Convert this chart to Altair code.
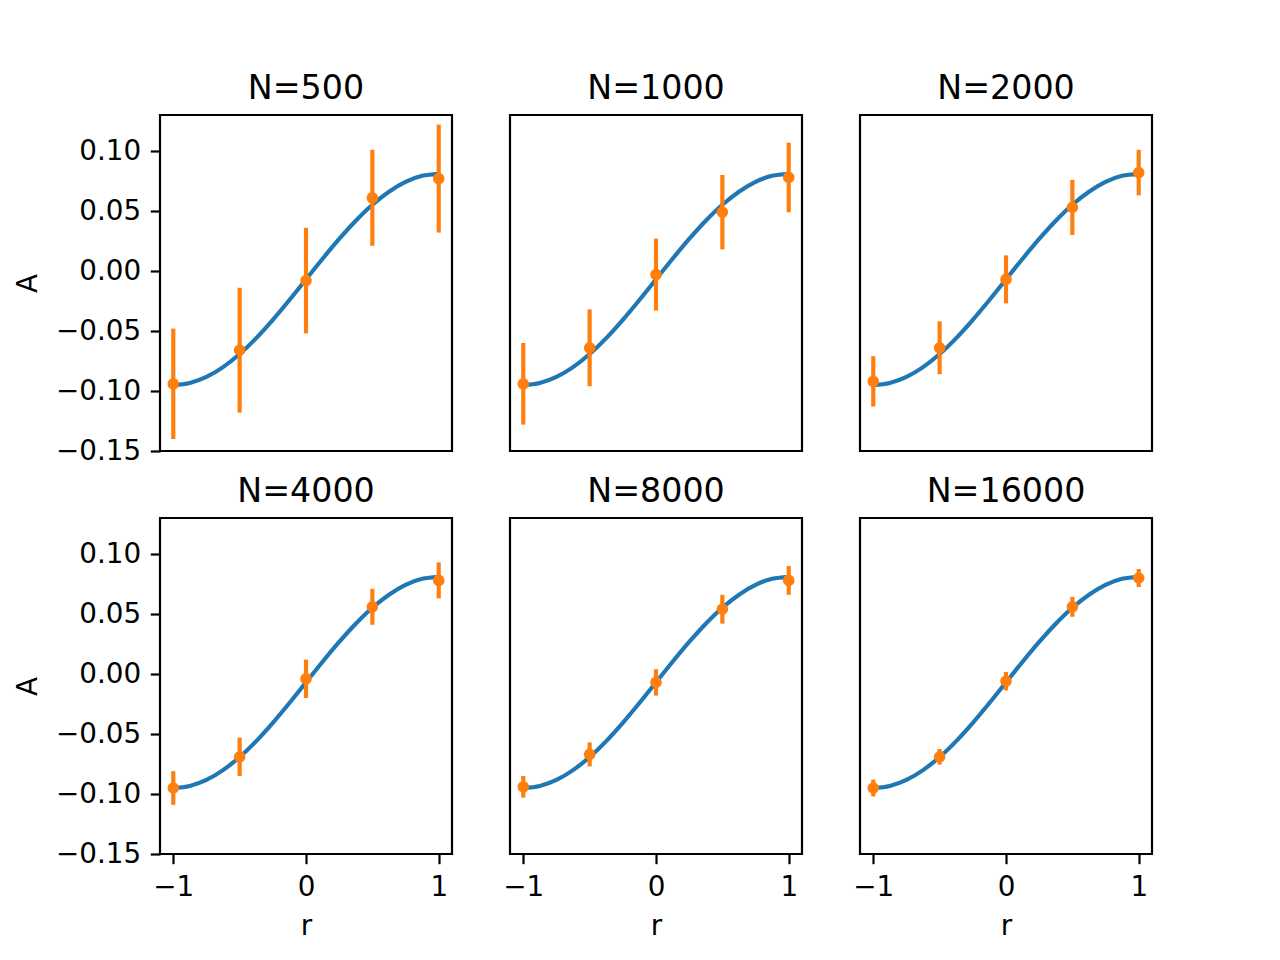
import altair as alt
import pandas as pd

C0 = "#1f77b4"
C1 = "#ff7f0e"
FONT = "DejaVu Sans"

N_values = [500, 1000, 2000, 4000, 8000, 16000]
r_points = [-1.0, -0.5, 0.0, 0.5, 1.0]

A_500 = [-0.094, -0.066, -0.008, 0.061, 0.077]
err_500 = [0.046, 0.052, 0.044, 0.040, 0.045]
A_1000 = [-0.094, -0.064, -0.003, 0.049, 0.078]
err_1000 = [0.034, 0.032, 0.030, 0.031, 0.029]
A_2000 = [-0.092, -0.064, -0.007, 0.053, 0.082]
err_2000 = [0.021, 0.022, 0.020, 0.023, 0.019]
A_4000 = [-0.095, -0.069, -0.004, 0.056, 0.078]
err_4000 = [0.014, 0.016, 0.016, 0.015, 0.015]
A_8000 = [-0.094, -0.067, -0.007, 0.054, 0.078]
err_8000 = [0.009, 0.010, 0.011, 0.012, 0.012]
A_16000 = [-0.095, -0.069, -0.006, 0.056, 0.080]
err_16000 = [0.007, 0.0065, 0.0077, 0.0083, 0.0075]

r_curve = [-1.0, -0.875, -0.75, -0.625, -0.5, -0.375, -0.25, -0.125, 0.0,
           0.125, 0.25, 0.375, 0.5, 0.625, 0.75, 0.875, 1.0]
A_curve = [-0.095, -0.0933, -0.0883, -0.0801, -0.0692, -0.0559, -0.0407, -0.0242, -0.007,
           0.0102, 0.0267, 0.0419, 0.0552, 0.0661, 0.0743, 0.0793, 0.081]

y_ticks = [-0.15, -0.10, -0.05, 0.0, 0.05, 0.10]
x_ticks = [-1, 0, 1]

series = {
    500: (A_500, err_500),
    1000: (A_1000, err_1000),
    2000: (A_2000, err_2000),
    4000: (A_4000, err_4000),
    8000: (A_8000, err_8000),
    16000: (A_16000, err_16000),
}

rows = []
for n in N_values:
    vals, errs = series[n]
    for r, a, e in zip(r_points, vals, errs):
        rows.append({"N": n, "r": r, "A": a, "lo": a - e, "hi": a + e})
pts = pd.DataFrame(rows)
curve_df = pd.DataFrame({"r": r_curve, "A": A_curve})

W, H = 292, 336


def panel(n, first_col, bottom_row):
    d = pts[pts.N == n]
    xs = alt.Scale(domain=[-1.1, 1.1], nice=False, zero=False)
    ys = alt.Scale(domain=[-0.15, 0.13], nice=False, zero=False)
    if bottom_row:
        xax = alt.Axis(values=x_ticks, format="d", title="r", titlePadding=11)
    else:
        xax = None
    if first_col:
        yax = alt.Axis(values=y_ticks, format=".2f", title="A", titlePadding=13)
    else:
        yax = None
    line = alt.Chart(curve_df).mark_line(
        color=C0, strokeWidth=4.17, interpolate="monotone"
    ).encode(
        x=alt.X("r:Q", scale=xs, axis=xax),
        y=alt.Y("A:Q", scale=ys, axis=yax),
    )
    bars = alt.Chart(d).mark_rule(color=C1, strokeWidth=4.17).encode(
        x=alt.X("r:Q", scale=xs, axis=xax),
        y=alt.Y("lo:Q", scale=ys, axis=yax),
        y2="hi:Q",
    )
    dots = alt.Chart(d).mark_circle(color=C1, size=135, opacity=1).encode(
        x=alt.X("r:Q", scale=xs, axis=xax),
        y=alt.Y("A:Q", scale=ys, axis=yax),
    )
    return alt.layer(line, bars, dots).properties(
        width=W, height=H, title=alt.Title(f"N={n}")
    )


panels = []
for i, n in enumerate(N_values):
    panels.append(panel(n, i % 3 == 0, i >= 3))

chart = (
    alt.concat(*panels, columns=3, spacing={"row": 67, "column": 58}, bounds="flush")
    .properties(padding={"left": 5, "top": 62, "right": 5, "bottom": 5}, background="white")
    .configure_view(stroke="black", strokeWidth=2.2)
    .configure_axis(
        domain=False, grid=False, tickColor="black", tickWidth=2.2, tickSize=9.7,
        labelPadding=9.7, labelFont=FONT, labelFontSize=27.8, labelColor="black",
        titleFont=FONT, titleFontSize=27.8, titleFontWeight="normal", titleColor="black",
        labelFlush=False,
    )
    .configure_title(
        font=FONT, fontSize=33.3, fontWeight="normal", color="black",
        anchor="middle", offset=9, baseline="alphabetic",
    )
)

chart.save("out.html", embed_options={"renderer": "svg", "actions": False})
